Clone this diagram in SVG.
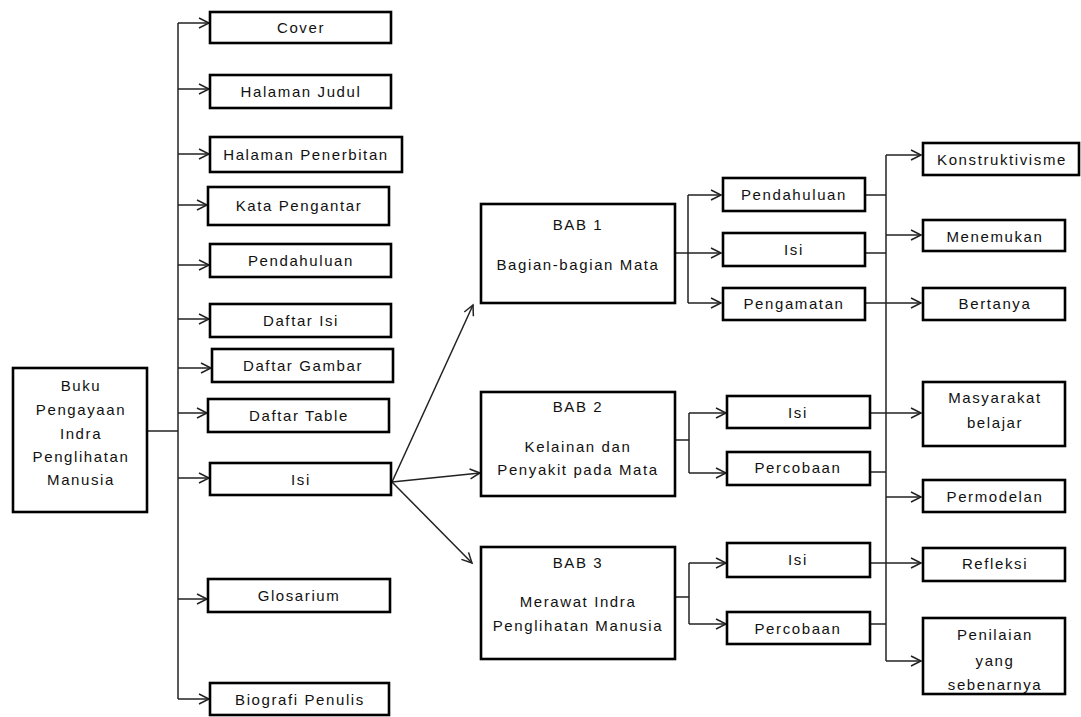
<svg xmlns="http://www.w3.org/2000/svg" width="1081" height="717" viewBox="0 0 1081 717">
<style>
.b{fill:#fff;stroke:#000;stroke-width:2.6}
.t{font-family:"Liberation Sans",Arial,sans-serif;font-size:15px;letter-spacing:1.6px;fill:#111;text-anchor:middle}
.c line,.c path{stroke:#222;stroke-width:1.5;fill:none}
</style>
<defs>
<marker id="a" markerUnits="userSpaceOnUse" markerWidth="14" markerHeight="14" refX="11" refY="6" orient="auto">
<path d="M1,1 L11,6 L1,11" fill="none" stroke="#222" stroke-width="1.5"/>
</marker>
</defs>
<rect width="1081" height="717" fill="#fff"/>
<g class="c" id="connectors">
<line x1="147" y1="431" x2="178" y2="431"/>
<line x1="178" y1="23" x2="178" y2="699"/>
<line x1="178" y1="23" x2="209" y2="23" marker-end="url(#a)"/>
<line x1="178" y1="89" x2="209" y2="89" marker-end="url(#a)"/>
<line x1="178" y1="154" x2="209" y2="154" marker-end="url(#a)"/>
<line x1="178" y1="205" x2="207" y2="205" marker-end="url(#a)"/>
<line x1="178" y1="265" x2="209" y2="265" marker-end="url(#a)"/>
<line x1="178" y1="319" x2="209" y2="319" marker-end="url(#a)"/>
<line x1="178" y1="368" x2="211" y2="368" marker-end="url(#a)"/>
<line x1="178" y1="413" x2="207" y2="413" marker-end="url(#a)"/>
<line x1="178" y1="478" x2="209" y2="478" marker-end="url(#a)"/>
<line x1="178" y1="599" x2="207" y2="599" marker-end="url(#a)"/>
<line x1="178" y1="699" x2="209" y2="699" marker-end="url(#a)"/>
<line x1="392" y1="482" x2="473" y2="305" marker-end="url(#a)"/>
<line x1="392" y1="482" x2="480" y2="473" marker-end="url(#a)"/>
<line x1="392" y1="482" x2="472" y2="563" marker-end="url(#a)"/>
<line x1="675" y1="253" x2="688" y2="253"/>
<line x1="688" y1="195" x2="688" y2="303"/>
<line x1="688" y1="195" x2="721" y2="195" marker-end="url(#a)"/>
<line x1="688" y1="253" x2="721" y2="253" marker-end="url(#a)"/>
<line x1="688" y1="303" x2="721" y2="303" marker-end="url(#a)"/>
<line x1="675" y1="440" x2="689" y2="440"/>
<line x1="689" y1="413" x2="689" y2="473"/>
<line x1="689" y1="413" x2="726" y2="413" marker-end="url(#a)"/>
<line x1="689" y1="473" x2="726" y2="473" marker-end="url(#a)"/>
<line x1="675" y1="597" x2="689" y2="597"/>
<line x1="689" y1="563" x2="689" y2="624"/>
<line x1="689" y1="563" x2="726" y2="563" marker-end="url(#a)"/>
<line x1="689" y1="624" x2="726" y2="624" marker-end="url(#a)"/>
<line x1="886" y1="155" x2="886" y2="661"/>
<line x1="865" y1="195" x2="886" y2="195"/>
<line x1="865" y1="253" x2="886" y2="253"/>
<line x1="865" y1="303" x2="921" y2="303" marker-end="url(#a)"/>
<line x1="870" y1="413" x2="921" y2="413" marker-end="url(#a)"/>
<line x1="870" y1="472" x2="886" y2="472"/>
<line x1="870" y1="563" x2="921" y2="563" marker-end="url(#a)"/>
<line x1="870" y1="624" x2="886" y2="624"/>
<line x1="886" y1="155" x2="921" y2="155" marker-end="url(#a)"/>
<line x1="886" y1="235" x2="921" y2="235" marker-end="url(#a)"/>
<line x1="886" y1="497" x2="921" y2="497" marker-end="url(#a)"/>
<line x1="886" y1="661" x2="921" y2="661" marker-end="url(#a)"/>
</g>
<g id="root"><rect class="b" x="13" y="368" width="134" height="144"/>
<text class="t" x="81" y="390.5">Buku</text><text class="t" x="81" y="414.5">Pengayaan</text><text class="t" x="81" y="438.5">Indra</text><text class="t" x="81" y="461.5">Penglihatan</text><text class="t" x="81" y="484.5">Manusia</text></g>
<g id="cover"><rect class="b" x="210" y="12" width="181" height="31"/><text class="t" x="301" y="33">Cover</text></g>
<g id="judul"><rect class="b" x="210" y="75" width="181" height="33"/><text class="t" x="301" y="97">Halaman Judul</text></g>
<g id="penerbitan"><rect class="b" x="210" y="137" width="192" height="35"/><text class="t" x="306" y="160">Halaman Penerbitan</text></g>
<g id="kata"><rect class="b" x="208" y="187" width="181" height="38"/><text class="t" x="299" y="211">Kata Pengantar</text></g>
<g id="pendahuluan"><rect class="b" x="210" y="244" width="181" height="33"/><text class="t" x="301" y="266">Pendahuluan</text></g>
<g id="daftarisi"><rect class="b" x="210" y="304" width="181" height="33"/><text class="t" x="301" y="326">Daftar Isi</text></g>
<g id="daftargambar"><rect class="b" x="212" y="349" width="181" height="33"/><text class="t" x="303" y="371">Daftar Gambar</text></g>
<g id="daftartable"><rect class="b" x="208" y="399" width="181" height="33"/><text class="t" x="299" y="421">Daftar Table</text></g>
<g id="isi"><rect class="b" x="210" y="463" width="181" height="32"/><text class="t" x="301" y="485">Isi</text></g>
<g id="glosarium"><rect class="b" x="208" y="579" width="182" height="33"/><text class="t" x="299" y="601">Glosarium</text></g>
<g id="biografi"><rect class="b" x="210" y="683" width="179" height="32"/><text class="t" x="300" y="705">Biografi Penulis</text></g>
<g id="bab1"><rect class="b" x="481" y="204" width="194" height="99"/><text class="t" x="578" y="230">BAB 1</text><text class="t" x="578" y="270">Bagian-bagian Mata</text></g>
<g id="bab2"><rect class="b" x="481" y="392" width="194" height="104"/><text class="t" x="578" y="412">BAB 2</text><text class="t" x="578" y="452">Kelainan dan</text><text class="t" x="578" y="475">Penyakit pada Mata</text></g>
<g id="bab3"><rect class="b" x="481" y="547" width="194" height="112"/><text class="t" x="578" y="568">BAB 3</text><text class="t" x="578" y="607">Merawat Indra</text><text class="t" x="578" y="631">Penglihatan Manusia</text></g>
<g id="b1pend"><rect class="b" x="723" y="178" width="142" height="33"/><text class="t" x="794" y="200">Pendahuluan</text></g>
<g id="b1isi"><rect class="b" x="723" y="233" width="142" height="33"/><text class="t" x="794" y="255">Isi</text></g>
<g id="b1peng"><rect class="b" x="723" y="288" width="142" height="32"/><text class="t" x="794" y="309">Pengamatan</text></g>
<g id="b2isi"><rect class="b" x="727" y="396" width="143" height="32"/><text class="t" x="798" y="418">Isi</text></g>
<g id="b2perc"><rect class="b" x="727" y="452" width="143" height="33"/><text class="t" x="798" y="473">Percobaan</text></g>
<g id="b3isi"><rect class="b" x="727" y="543" width="143" height="34"/><text class="t" x="798" y="565">Isi</text></g>
<g id="b3perc"><rect class="b" x="727" y="612" width="143" height="32"/><text class="t" x="798" y="634">Percobaan</text></g>
<g id="konstruktivisme"><rect class="b" x="923" y="143" width="156" height="32"/><text class="t" x="1002" y="165">Konstruktivisme</text></g>
<g id="menemukan"><rect class="b" x="923" y="220" width="142" height="31"/><text class="t" x="995" y="242">Menemukan</text></g>
<g id="bertanya"><rect class="b" x="923" y="288" width="142" height="32"/><text class="t" x="995" y="309">Bertanya</text></g>
<g id="masyarakat"><rect class="b" x="923" y="382" width="142" height="64"/><text class="t" x="995" y="403">Masyarakat</text><text class="t" x="995" y="428">belajar</text></g>
<g id="permodelan"><rect class="b" x="923" y="480" width="142" height="32"/><text class="t" x="995" y="502">Permodelan</text></g>
<g id="refleksi"><rect class="b" x="923" y="548" width="142" height="33"/><text class="t" x="995" y="569">Refleksi</text></g>
<g id="penilaian"><rect class="b" x="923" y="618" width="142" height="76"/><text class="t" x="995" y="640">Penilaian</text><text class="t" x="995" y="666">yang</text><text class="t" x="995" y="690">sebenarnya</text></g>
</svg>
